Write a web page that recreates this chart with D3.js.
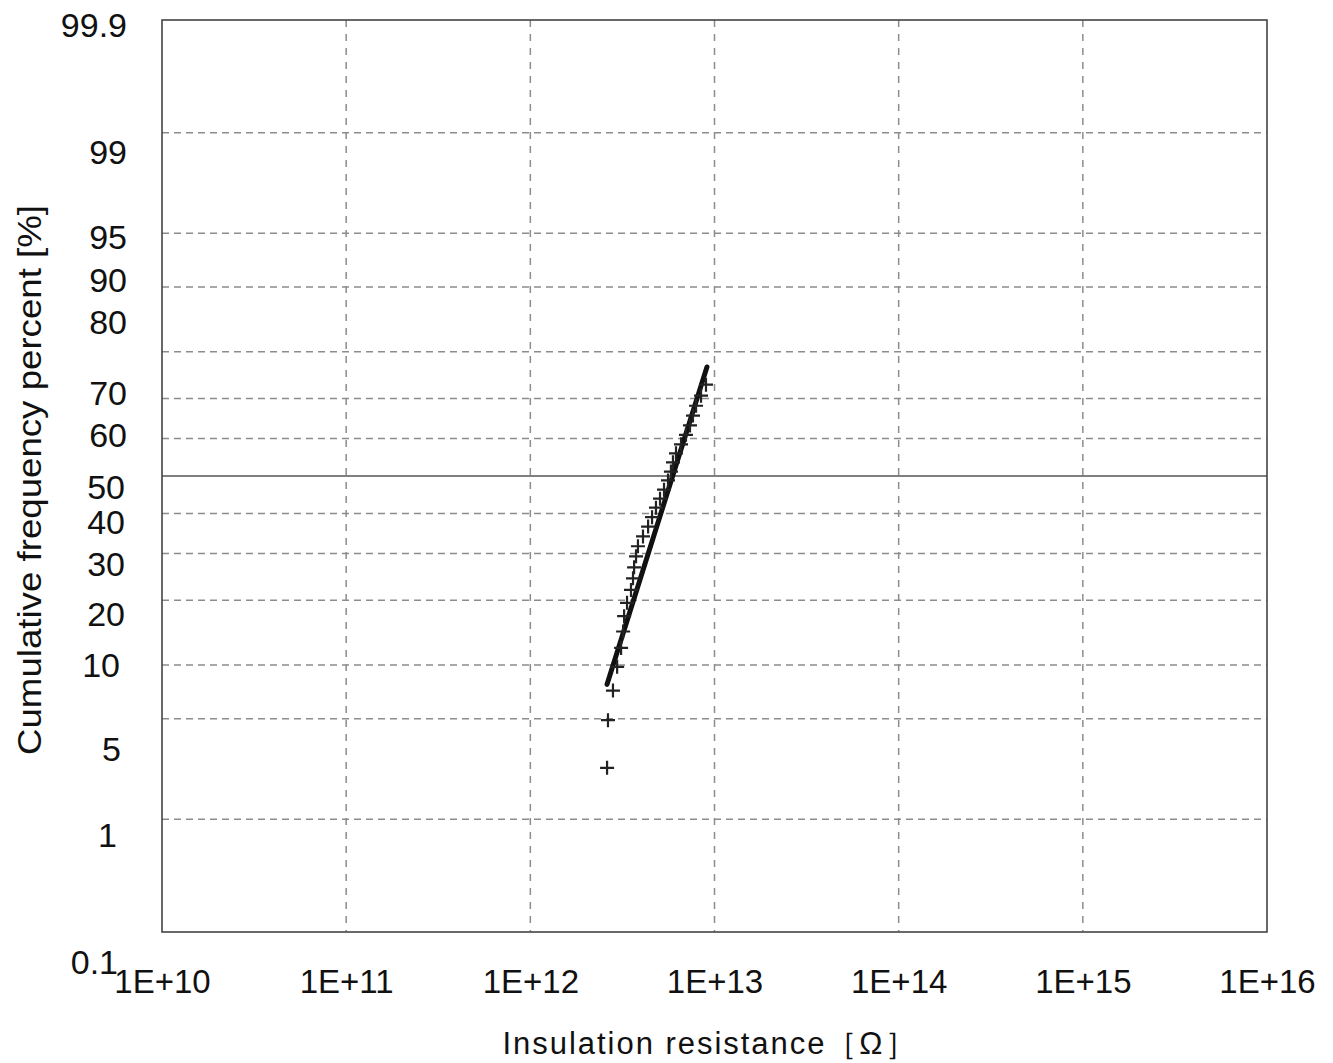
<!DOCTYPE html>
<html>
<head>
<meta charset="utf-8">
<script src="https://cdn.jsdelivr.net/npm/d3@7/dist/d3.min.js"></script>
<style>
  body { margin: 0; background: #fff; }
</style>
</head>
<body>
<div id="chart"></div>
<script>
// tick values / labels
var xTicks = [1e10, 1e11, 1e12, 1e13, 1e14, 1e15, 1e16];
var xTickLabels = ["1E+10", "1E+11", "1E+12", "1E+13", "1E+14", "1E+15", "1E+16"];
var yTicks = [0.1, 1, 5, 10, 20, 30, 40, 50, 60, 70, 80, 90, 95, 99, 99.9];
var yTickLabels = ["0.1", "1", "5", "10", "20", "30", "40", "50", "60", "70", "80", "90", "95", "99", "99.9"];
var yGrid = [1, 5, 10, 20, 30, 40, 60, 70, 80, 90, 95, 99];

// measured points (insulation resistance, cumulative %)
var resistance = [2.61e12, 2.64e12, 2.81e12, 2.96e12, 3.11e12, 3.19e12, 3.23e12, 3.35e12, 3.52e12, 3.61e12,
                  3.66e12, 3.75e12, 3.84e12, 4.09e12, 4.36e12, 4.58e12, 4.81e12, 5.06e12, 5.32e12, 5.59e12,
                  5.80e12, 5.95e12, 6.18e12, 6.58e12, 7.00e12, 7.36e12, 7.64e12, 7.94e12, 8.45e12, 8.99e12];
var cumPercent = [2.4, 4.9, 7.3, 9.8, 12.2, 14.6, 17.1, 19.5, 22.0, 24.4,
                  26.8, 29.3, 31.7, 34.1, 36.6, 39.0, 41.5, 43.9, 46.3, 48.8,
                  51.2, 53.7, 56.1, 58.5, 61.0, 63.4, 65.9, 68.3, 70.7, 73.2];

// fitted line
var fitResistance = [2.61e12, 9.1e12];
var fitPercent = [7.9, 77.0];

// the y labels in the original sit a bit off their grid lines
var labelNudge = [[-9, 29], [-10, 15], [-6, 30], [-7, -1], [-2, 13], [-2, 10], [-2, 8], [-2, 10],
                  [0, -4], [0, -6], [0, -31], [0, -8], [0, 3], [0, 19], [0, 4]];

// inverse of the normal cdf (Acklam)
function probit(p) {
  var a = [-3.969683028665376e+01, 2.209460984245205e+02, -2.759285104469687e+02, 1.383577518672690e+02, -3.066479806614716e+01, 2.506628277459239e+00];
  var b = [-5.447609879822406e+01, 1.615858368580409e+02, -1.556989798598866e+02, 6.680131188771972e+01, -1.328068155288572e+01];
  var c = [-7.784894002430293e-03, -3.223964580411365e-01, -2.400758277161838e+00, -2.549671348949330e+00, 4.374664141464968e+00, 2.938163982698783e+00];
  var d = [7.784695709041462e-03, 3.224671290700398e-01, 2.445134137142996e+00, 3.754408661907416e+00];
  var plow = 0.02425, q, r;
  if (p < plow) {
    q = Math.sqrt(-2 * Math.log(p));
    return (((((c[0]*q+c[1])*q+c[2])*q+c[3])*q+c[4])*q+c[5]) / ((((d[0]*q+d[1])*q+d[2])*q+d[3])*q+1);
  }
  if (p <= 1 - plow) {
    q = p - 0.5; r = q * q;
    return (((((a[0]*r+a[1])*r+a[2])*r+a[3])*r+a[4])*r+a[5])*q / (((((b[0]*r+b[1])*r+b[2])*r+b[3])*r+b[4])*r+1);
  }
  q = Math.sqrt(-2 * Math.log(1 - p));
  return -(((((c[0]*q+c[1])*q+c[2])*q+c[3])*q+c[4])*q+c[5]) / ((((d[0]*q+d[1])*q+d[2])*q+d[3])*q+1);
}

var margin = {top: 20, right: 66, bottom: 131, left: 162},
    W = 1333, H = 1063,
    width = W - margin.left - margin.right,
    height = H - margin.top - margin.bottom;

var svg = d3.select("#chart").append("svg")
    .attr("width", W)
    .attr("height", H);

svg.append("rect").attr("width", W).attr("height", H).attr("fill", "#fff");

var g = svg.append("g")
    .attr("transform", `translate(${margin.left}, ${margin.top})`);

var x = d3.scaleLog().domain([1e10, 1e16]).range([0, width]);
var yz = d3.scaleLinear().domain([probit(0.001), probit(0.999)]).range([height, 0]);
function y(pct) { return yz(probit(pct / 100)); }

// grid
g.selectAll(".hgrid").data(yGrid).enter().append("line")
    .attr("x1", 0).attr("x2", width)
    .attr("y1", d => y(d)).attr("y2", d => y(d))
    .attr("stroke", "#8c8c8c").attr("stroke-width", 1.5)
    .attr("stroke-dasharray", "7,5");

g.selectAll(".vgrid").data(xTicks.slice(1, -1)).enter().append("line")
    .attr("x1", d => x(d)).attr("x2", d => x(d))
    .attr("y1", 0).attr("y2", height)
    .attr("stroke", "#8c8c8c").attr("stroke-width", 1.5)
    .attr("stroke-dasharray", "7,7");

// 50% line
g.append("line")
    .attr("x1", 0).attr("x2", width)
    .attr("y1", y(50)).attr("y2", y(50))
    .attr("stroke", "#555").attr("stroke-width", 1.3);

// frame
g.append("rect")
    .attr("width", width).attr("height", height)
    .attr("fill", "none").attr("stroke", "#444").attr("stroke-width", 1.6);

// x axis
var xAxis = g.append("g")
    .attr("transform", `translate(0, ${height})`)
    .call(d3.axisBottom(x).tickValues(xTicks).tickSize(0).tickPadding(38)
      .tickFormat((d, i) => xTickLabels[i]));
xAxis.select(".domain").remove();
xAxis.selectAll("text")
    .attr("font-family", "Liberation Sans, Arial, sans-serif")
    .attr("font-size", 33)
    .attr("fill", "#111");

// y axis
var yAxis = g.append("g")
    .call(d3.axisLeft(yz).tickValues(yTicks.map(p => probit(p / 100))).tickSize(0).tickPadding(35)
      .tickFormat((d, i) => yTickLabels[i]));
yAxis.select(".domain").remove();
yAxis.selectAll("text")
    .attr("font-family", "Liberation Sans, Arial, sans-serif")
    .attr("font-size", 34)
    .attr("fill", "#111")
    .attr("dy", "0.36em")
    .attr("x", (d, i) => -35 + labelNudge[i][0])
    .attr("y", (d, i) => labelNudge[i][1]);

// fit line
var pts = fitResistance.map((r, i) => [r, fitPercent[i]]);
g.append("path")
    .datum(pts)
    .attr("fill", "none")
    .attr("stroke", "#111")
    .attr("stroke-width", 5)
    .attr("stroke-linecap", "round")
    .attr("d", d3.line().x(d => x(d[0])).y(d => y(d[1])));

// plus markers
g.selectAll(".pt").data(resistance).enter().append("path")
    .attr("transform", (d, i) => `translate(${x(d)}, ${y(cumPercent[i])})`)
    .attr("d", "M-7,0H7M0,-7V7")
    .attr("fill", "none")
    .attr("stroke", "#222")
    .attr("stroke-width", 2.2);

// axis titles
svg.append("text")
    .attr("x", 709).attr("y", 1054)
    .attr("text-anchor", "middle")
    .attr("font-family", "Liberation Sans, Arial, sans-serif")
    .attr("font-size", 31)
    .attr("textLength", 413)
    .attr("lengthAdjust", "spacing")
    .attr("fill", "#111")
    .text("Insulation resistance［Ω］");

svg.append("text")
    .attr("transform", "translate(29, 480) rotate(-90)")
    .attr("text-anchor", "middle")
    .attr("dominant-baseline", "central")
    .attr("font-family", "Liberation Sans, Arial, sans-serif")
    .attr("font-size", 34)
    .attr("textLength", 550)
    .attr("lengthAdjust", "spacingAndGlyphs")
    .attr("fill", "#111")
    .text("Cumulative frequency percent [%]");
</script>
</body>
</html>
